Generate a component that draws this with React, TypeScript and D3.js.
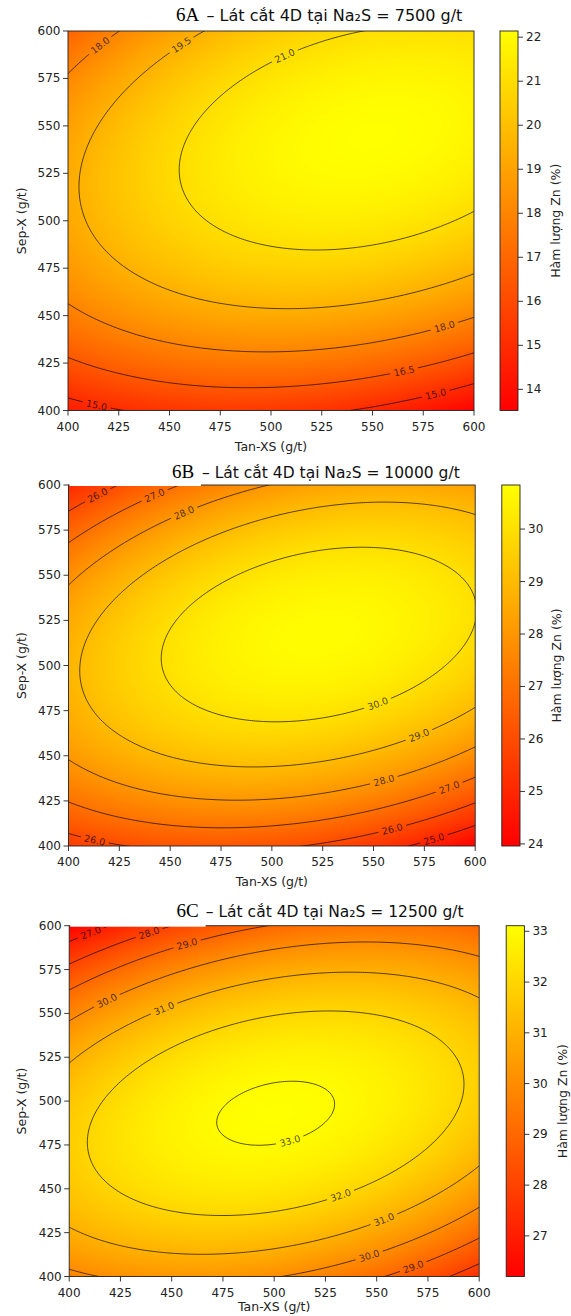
import React, { useMemo } from 'react';
import * as d3 from 'd3';

const X_TICKS = [400, 425, 450, 475, 500, 525, 550, 575, 600];
const Y_TICKS = [400, 425, 450, 475, 500, 525, 550, 575, 600];

const TITLE_IDS = ['6A', '6B', '6C'];
const TITLE_TEXTS = [
  '– Lát cắt 4D tại Na₂S = 7500 g/t',
  '– Lát cắt 4D tại Na₂S = 10000 g/t',
  '– Lát cắt 4D tại Na₂S = 12500 g/t',
];

// quadratic response surface of Hàm lượng Zn (%) in coded units
// X = (Tan-XS - 500)/100, Y = (Sep-X - 500)/100
// [b0, bX, bY, bXX, bYY, bXY], estimated from the contour lines of each panel
const COEF_A = [21.397, 0.813, 2.474, -1.387, -3.534, 1.277];
const COEF_B = [30.638, 0.432, 0.939, -1.381, -3.55, 1.208];
const COEF_C = [33.091, 0.109, -0.5, -1.429, -3.546, 1.279];

const LEVELS_A = [15, 16.5, 18, 19.5, 21];
const LEVELS_B = [25, 26, 27, 28, 29, 30];
const LEVELS_C = [27, 28, 29, 30, 31, 32, 33];

const CBAR_RANGE_A = [13.52, 22.14];
const CBAR_RANGE_B = [23.96, 30.84];
const CBAR_RANGE_C = [26.2, 33.11];

const CBAR_TICKS_A = [14, 15, 16, 17, 18, 19, 20, 21, 22];
const CBAR_TICKS_B = [24, 25, 26, 27, 28, 29, 30];
const CBAR_TICKS_C = [27, 28, 29, 30, 31, 32, 33];

// contour-label anchors [Tan-XS, Sep-X, level]
const LABELS_A = [
  [416.1, 592.1, 18], [456.3, 592.1, 19.5], [506.4, 587.7, 21],
  [585.2, 445, 18], [565.5, 421.4, 16.5], [581.1, 409.1, 15], [414.4, 403.9, 15],
];
const LABELS_B = [
  [414.8, 593.5, 26], [441.8, 595.4, 27], [456.6, 585.2, 28],
  [552.5, 477.8, 30], [572.1, 462, 29], [554.9, 437, 28], [586.9, 433.3, 27],
  [559, 410.2, 26], [579.5, 404.6, 25], [413.1, 404.1, 26],
];
const LABELS_C = [
  [410.7, 595.6, 27], [439.1, 595.6, 28], [457.7, 589, 29], [418.7, 556.7, 30],
  [446.2, 552.9, 31], [507.5, 477.9, 33], [532.3, 446.5, 32], [553.6, 432.3, 31],
  [546.5, 411.4, 30], [567.8, 405.7, 29],
];

const LAYOUT = [
  { x0: 68, x1: 474, y0: 31, y1: 410.5, cb0: 500, cb1: 518, tb: 20.5, idx: 176, tx: 206.5, tfs: 16, xl: 446.7, cbl: 555.3, cut: false },
  { x0: 68.5, x1: 475.2, y0: 485, y1: 846, cb0: 501.8, cb1: 520, tb: 478, idx: 172, tx: 202, tfs: 15.5, xl: 881, cbl: 556.4, cut: true },
  { x0: 69.2, x1: 479.2, y0: 925.7, y1: 1276.5, cb0: 506.2, cb1: 524.4, tb: 917, idx: 176.6, tx: 205.8, tfs: 15.5, xl: 1306, cbl: 562.6, cut: true },
];

const FONT = 'DejaVu Sans, Verdana, sans-serif';

function autumn(t: number) {
  const g = Math.round(255 * Math.max(0, Math.min(1, t)));
  return [255, g, 0];
}

function Panel({ k, coef, levels, range, cticks, labels }: any) {
  const L = LAYOUT[k];
  const xs = d3.scaleLinear().domain([400, 600]).range([L.x0, L.x1]);
  const ys = d3.scaleLinear().domain([400, 600]).range([L.y1, L.y0]);
  const cs = d3.scaleLinear().domain(range).range([L.y1, L.y0]);
  const f = (x: number, y: number) => {
    const X = (x - 500) / 100, Y = (y - 500) / 100;
    return coef[0] + coef[1] * X + coef[2] * Y + coef[3] * X * X + coef[4] * Y * Y + coef[5] * X * Y;
  };

  const img = useMemo(() => {
    const W = Math.round(L.x1 - L.x0), H = Math.round(L.y1 - L.y0);
    const cv = document.createElement('canvas');
    cv.width = W; cv.height = H;
    const ctx = cv.getContext('2d')!;
    const id = ctx.createImageData(W, H);
    for (let j = 0; j < H; j++) for (let i = 0; i < W; i++) {
      const x = 400 + ((i + 0.5) / W) * 200;
      const y = 600 - ((j + 0.5) / H) * 200;
      const c = autumn((f(x, y) - range[0]) / (range[1] - range[0]));
      const o = (j * W + i) * 4;
      id.data[o] = c[0]; id.data[o + 1] = c[1]; id.data[o + 2] = c[2]; id.data[o + 3] = 255;
    }
    ctx.putImageData(id, 0, 0);
    return cv.toDataURL();
  }, [k]);

  const paths = useMemo(() => {
    const n = 221, lo = 390;
    const vals = new Array(n * n);
    for (let j = 0; j < n; j++) for (let i = 0; i < n; i++) vals[j * n + i] = f(lo + i, 610 - j);
    const cont = d3.contours().size([n, n]).thresholds(levels)(vals);
    const proj = d3.geoTransform({
      point(px: number, py: number) {
        (this as any).stream.point(xs(lo + (px - 0.5)), ys(610 - (py - 0.5)));
      },
    });
    const gp = d3.geoPath(proj as any);
    return cont.filter((c) => levels.includes(c.value)).map((c) => ({ v: c.value, d: gp(c as any) }));
  }, [k]);

  const labs = labels.map(([lx, ly, lv]: number[]) => {
    let x = lx, y = ly;
    const h = 0.01;
    const grad = (px: number, py: number) => [
      (f(px + h, py) - f(px - h, py)) / (2 * h),
      (f(px, py + h) - f(px, py - h)) / (2 * h),
    ];
    for (let it = 0; it < 4; it++) {
      const [gx, gy] = grad(x, y);
      const g2 = gx * gx + gy * gy;
      const d = f(x, y) - lv;
      x -= (d * gx) / g2; y -= (d * gy) / g2;
    }
    const [gx, gy] = grad(x, y);
    const sgx = gx / (xs(1) - xs(0));
    const sgy = gy / (ys(1) - ys(0));
    let ang = (Math.atan2(sgx, -sgy) * 180) / Math.PI;
    if (ang > 90) ang -= 180;
    if (ang < -90) ang += 180;
    const txt = lv.toFixed(1);
    return { sx: xs(x), sy: ys(y), ang, txt, w: txt.length * 5.6 };
  });

  const gid = `p${k}`;
  return (
    <g>
      <defs>
        <clipPath id={`clip${gid}`}>
          <rect x={L.x0} y={L.y0} width={L.x1 - L.x0} height={L.y1 - L.y0} />
        </clipPath>
        <mask id={`mask${gid}`} maskUnits="userSpaceOnUse" x={0} y={0} width={571} height={1316}>
          <rect x={0} y={0} width={571} height={1316} fill="white" />
          {labs.map((l: any, i: number) => (
            <rect key={i} x={-l.w / 2 - 3} y={-4} width={l.w + 6} height={8} fill="black"
              transform={`translate(${l.sx},${l.sy}) rotate(${l.ang})`} />
          ))}
        </mask>
        <linearGradient id={`cg${gid}`} x1="0" y1="1" x2="0" y2="0">
          <stop offset="0" stopColor="rgb(255,0,0)" />
          <stop offset="1" stopColor="rgb(255,255,0)" />
        </linearGradient>
      </defs>
      <image href={img} x={L.x0} y={L.y0} width={L.x1 - L.x0} height={L.y1 - L.y0} preserveAspectRatio="none" />
      <g clipPath={`url(#clip${gid})`}>
        <g mask={`url(#mask${gid})`}>
          {paths.map((p: any, i: number) => (
            <path key={i} d={p.d} fill="none" stroke="black" strokeOpacity={0.75} strokeWidth={0.9} />
          ))}
        </g>
      </g>
      {labs.map((l: any, i: number) => (
        <text key={i} x={0} y={0} transform={`translate(${l.sx},${l.sy}) rotate(${l.ang})`}
          textAnchor="middle" dominantBaseline="central" fontFamily={FONT} fontSize={9.5} fill="black" fillOpacity={0.72}>
          {l.txt}
        </text>
      ))}
      <rect x={L.x0} y={L.y0} width={L.x1 - L.x0} height={L.y1 - L.y0} fill="none" stroke="#222" strokeWidth={0.9} />
      {X_TICKS.map((t) => (
        <g key={t}>
          <line x1={xs(t)} x2={xs(t)} y1={L.y1} y2={L.y1 + 5} stroke="#222" strokeWidth={0.9} />
          <text x={xs(t)} y={L.y1 + 16} textAnchor="middle" dominantBaseline="central" fontFamily={FONT} fontSize={12} fill="#222">{t}</text>
        </g>
      ))}
      {Y_TICKS.map((t) => (
        <g key={t}>
          <line x1={L.x0 - 5} x2={L.x0} y1={ys(t)} y2={ys(t)} stroke="#222" strokeWidth={0.9} />
          <text x={L.x0 - 7.5} y={ys(t)} textAnchor="end" dominantBaseline="central" fontFamily={FONT} fontSize={12} fill="#222">{t}</text>
        </g>
      ))}
      <text x={(L.x0 + L.x1) / 2} y={L.xl} textAnchor="middle" dominantBaseline="central" fontFamily={FONT} fontSize={12.5} fill="#222">Tan-XS (g/t)</text>
      <text transform={`translate(21.8,${(L.y0 + L.y1) / 2}) rotate(-90)`} textAnchor="middle" dominantBaseline="central" fontFamily={FONT} fontSize={12.5} fill="#222">Sep-X (g/t)</text>
      <rect x={L.cb0} y={L.y0} width={L.cb1 - L.cb0} height={L.y1 - L.y0} fill={`url(#cg${gid})`} stroke="#222" strokeWidth={0.9} />
      {cticks.map((t: number) => (
        <g key={t}>
          <line x1={L.cb1} x2={L.cb1 + 5} y1={cs(t)} y2={cs(t)} stroke="#222" strokeWidth={0.9} />
          <text x={L.cb1 + 8} y={cs(t)} dominantBaseline="central" fontFamily={FONT} fontSize={12} fill="#222">{t}</text>
        </g>
      ))}
      <text transform={`translate(${L.cbl},${(L.y0 + L.y1) / 2}) rotate(-90)`} textAnchor="middle" dominantBaseline="central" fontFamily={FONT} fontSize={12.5} fill="#222">Hàm lượng Zn (%)</text>
      {L.cut && <rect x={L.x0 + 1} y={L.y0 - 8} width={L.idx + 28 - L.x0} height={9} fill="white" />}
      <text x={L.idx} y={L.tb} fontFamily="Liberation Serif, Times New Roman, serif" fontSize={19} fill="black">{TITLE_IDS[k]}</text>
      <text x={L.tx} y={L.tb} fontFamily={FONT} fontSize={L.tfs} fill="#111">{TITLE_TEXTS[k]}</text>
    </g>
  );
}

export default function App() {
  return (
    <svg width={571} height={1316} style={{ position: 'absolute', left: 0, top: 0, background: 'white' }}>
      <Panel k={0} coef={COEF_A} levels={LEVELS_A} range={CBAR_RANGE_A} cticks={CBAR_TICKS_A} labels={LABELS_A} />
      <Panel k={1} coef={COEF_B} levels={LEVELS_B} range={CBAR_RANGE_B} cticks={CBAR_TICKS_B} labels={LABELS_B} />
      <Panel k={2} coef={COEF_C} levels={LEVELS_C} range={CBAR_RANGE_C} cticks={CBAR_TICKS_C} labels={LABELS_C} />
    </svg>
  );
}
